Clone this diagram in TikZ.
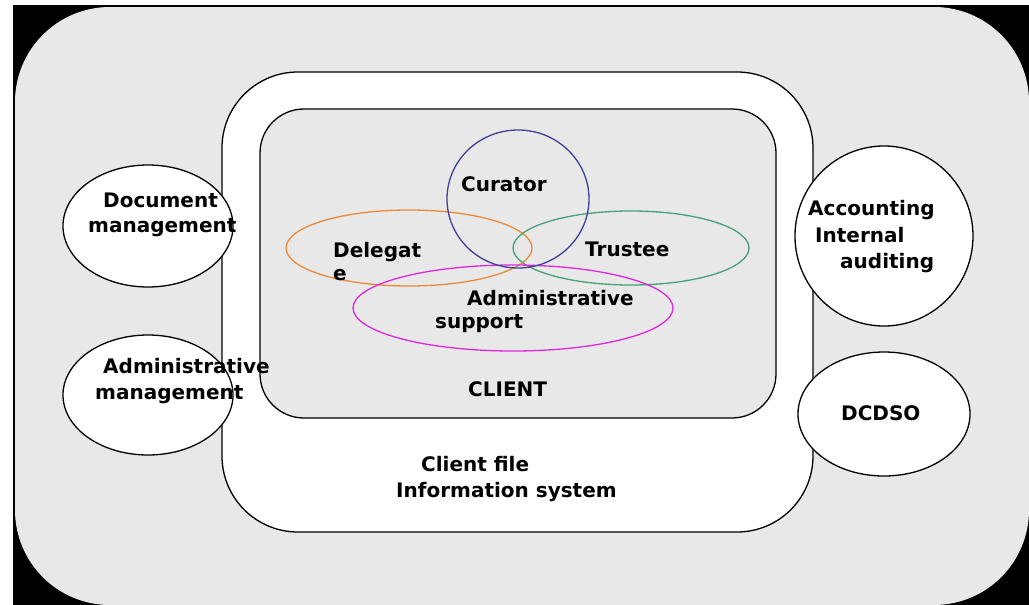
\documentclass[tikz,border=0pt]{standalone}
\usepackage{fontspec}
\setmainfont{DejaVu Sans}
\definecolor{bggrey}{RGB}{232,232,232}
\definecolor{curc}{RGB}{64,64,150}
\definecolor{delc}{RGB}{238,136,56}
\definecolor{truc}{RGB}{70,160,120}
\definecolor{admc}{RGB}{222,40,222}
\begin{document}
\begin{tikzpicture}[x=1pt,y=-1pt,
  lbl/.style={anchor=base west, inner sep=0pt, font=\bfseries\fontsize{20}{24}\selectfont},
  frame/.style={draw=black, line width=1.3pt},
  venn/.style={line width=1.3pt},
  side/.style={fill=white, draw=black, line width=1.3pt}]
\useasboundingbox (0,0) rectangle (1029,605);
% background
\fill[black] (13,5) rectangle (1029,605);
\fill[bggrey, rounded corners=95pt] (15,7) rectangle (1029,605);
% client file system
\filldraw[frame, fill=white, rounded corners=76pt] (222,72) rectangle (813,532);
% client
\filldraw[frame, fill=bggrey, rounded corners=44pt] (260,109) rectangle (776,418);
% venn
\draw[venn, draw=delc] (409,248) ellipse [x radius=123pt, y radius=38pt];
\draw[venn, draw=truc] (631,248) ellipse [x radius=118pt, y radius=37pt];
\draw[venn, draw=admc] (513,308) ellipse [x radius=160pt, y radius=43pt];
\draw[venn, draw=curc] (518,199) ellipse [x radius=71pt, y radius=69pt];
% side ellipses
\filldraw[side] (148,226) ellipse [x radius=85pt, y radius=61pt];
\filldraw[side] (148,395) ellipse [x radius=85pt, y radius=60pt];
\filldraw[side] (884,236) ellipse [x radius=89pt, y radius=90pt];
\filldraw[side] (884,414) ellipse [x radius=86pt, y radius=62pt];
% labels
\node[lbl] (cur) at (461,191) {Curator};
\node[lbl] (del1) at (333,257) {Delegat};
\node[lbl] (del2) at (333,280) {e};
\node[lbl] (tru) at (585,256) {Trustee};
\node[lbl] (adm1) at (467,305) {Administrative};
\node[lbl] (adm2) at (435,328) {support};
\node[lbl] (cli) at (468,396) {CLIENT};
\node[lbl] (cf1) at (421,471) {Client file};
\node[lbl] (cf2) at (396,497) {Information system};
\node[lbl] (doc1) at (103,207) {Document};
\node[lbl] (doc2) at (88,232) {management};
\node[lbl] (am1) at (103,373) {Administrative};
\node[lbl] (am2) at (95,399) {management};
\node[lbl] (acc1) at (808,215) {Accounting};
\node[lbl] (acc2) at (815,242) {Internal};
\node[lbl] (acc3) at (840,268) {auditing};
\node[lbl] (dcd) at (841,420) {DCDSO};
\end{tikzpicture}
\end{document}
